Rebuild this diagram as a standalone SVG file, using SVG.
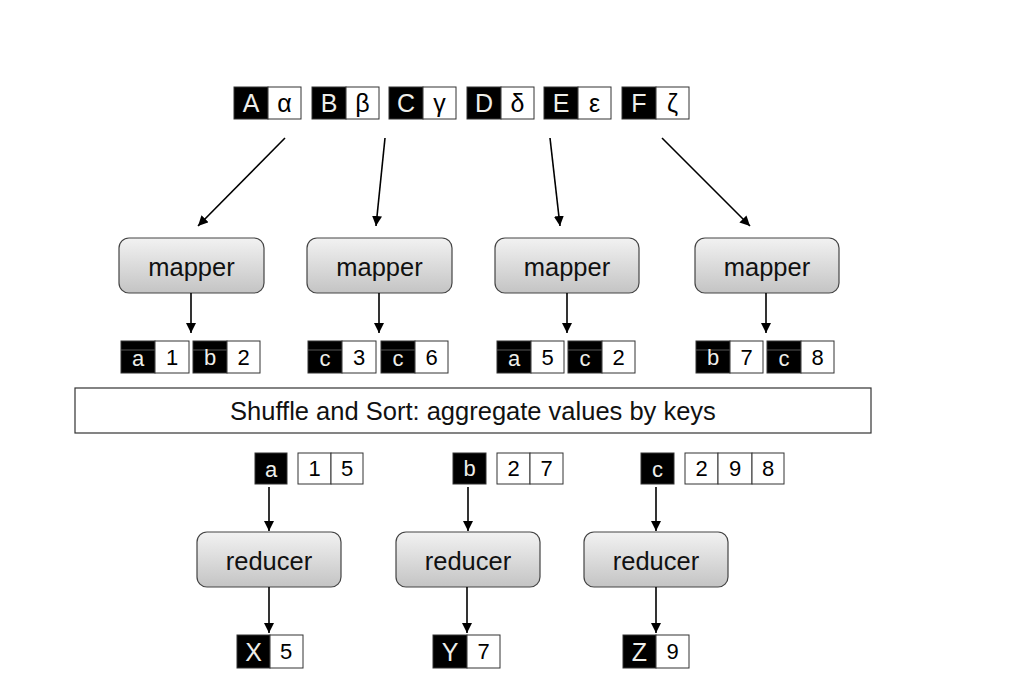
<svg xmlns="http://www.w3.org/2000/svg" width="1016" height="698" viewBox="0 0 1016 698">
<defs>
<linearGradient id="g" x1="0" y1="0" x2="0" y2="1">
<stop offset="0" stop-color="#f2f2f2"/>
<stop offset="1" stop-color="#c4c4c4"/>
</linearGradient>
<marker id="ah" viewBox="0 0 10 10" refX="10" refY="5" markerWidth="10" markerHeight="10" markerUnits="userSpaceOnUse" orient="auto">
<path d="M0,0 L10,5 L0,10 Z" fill="#000"/>
</marker>
</defs>
<style>
text{font-family:"Liberation Sans",Arial,sans-serif;text-anchor:middle;dominant-baseline:central}
.k{fill:#000;stroke:#333;stroke-width:1}
.v{fill:#fff;stroke:#333;stroke-width:1}
.kt{fill:#eeeeea;font-size:25px}
.vt{fill:#000;font-size:25px}
.pk{fill:#eeeeea;font-size:22px}
.pv{fill:#000;font-size:22px}
.box{fill:url(#g);stroke:#444;stroke-width:1.2}
.bt{fill:#111;font-size:25.5px}
.c{stroke:#000;stroke-width:1.6;fill:none;marker-end:url(#ah)}
.hl{stroke:#555;stroke-width:1}
</style>
<rect width="1016" height="698" fill="#fff"/>

<g id="inputs">
<g id="in-A"><rect class="k" x="234" y="87" width="34" height="32"/><rect class="v" x="268" y="87" width="33" height="32"/><text class="kt" x="251" y="103">A</text><text class="vt" x="284.5" y="103">α</text></g>
<g id="in-B"><rect class="k" x="312" y="87" width="34" height="32"/><rect class="v" x="346" y="87" width="33" height="32"/><text class="kt" x="329" y="103">B</text><text class="vt" x="362.5" y="103">β</text></g>
<g id="in-C"><rect class="k" x="389" y="87" width="34" height="32"/><rect class="v" x="423" y="87" width="33" height="32"/><text class="kt" x="406" y="103">C</text><text class="vt" x="439.5" y="103">γ</text></g>
<g id="in-D"><rect class="k" x="467" y="87" width="34" height="32"/><rect class="v" x="501" y="87" width="33" height="32"/><text class="kt" x="484" y="103">D</text><text class="vt" x="517.5" y="103">δ</text></g>
<g id="in-E"><rect class="k" x="544" y="87" width="34" height="32"/><rect class="v" x="578" y="87" width="33" height="32"/><text class="kt" x="561" y="103">E</text><text class="vt" x="594.5" y="103">ε</text></g>
<g id="in-F"><rect class="k" x="622" y="87" width="34" height="32"/><rect class="v" x="656" y="87" width="33" height="32"/><text class="kt" x="639" y="103">F</text><text class="vt" x="672.5" y="103">ζ</text></g>
</g>

<g id="mapper1"><rect class="box" x="119" y="238" width="145" height="55" rx="10"/><text class="bt" x="191.5" y="267">mapper</text></g>
<g id="mapper2"><rect class="box" x="307" y="238" width="145" height="55" rx="10"/><text class="bt" x="379.5" y="267">mapper</text></g>
<g id="mapper3"><rect class="box" x="495" y="238" width="144" height="55" rx="10"/><text class="bt" x="567" y="267">mapper</text></g>
<g id="mapper4"><rect class="box" x="695" y="238" width="144" height="55" rx="10"/><text class="bt" x="767" y="267">mapper</text></g>

<g id="pairs1">
<rect class="k" x="121" y="341" width="34" height="32"/><line class="hl" x1="121" y1="350" x2="155" y2="350"/><rect class="v" x="155" y="341" width="34" height="32"/><text class="pk" x="138" y="358">a</text><text class="pv" x="172" y="357">1</text>
<rect class="k" x="193" y="341" width="34" height="32"/><line class="hl" x1="193" y1="350" x2="227" y2="350"/><rect class="v" x="227" y="341" width="33" height="32"/><text class="pk" x="210" y="357">b</text><text class="pv" x="243.5" y="357">2</text>
</g>
<g id="pairs2">
<rect class="k" x="308" y="341" width="34" height="32"/><line class="hl" x1="308" y1="350" x2="342" y2="350"/><rect class="v" x="342" y="341" width="34" height="32"/><text class="pk" x="325" y="358">c</text><text class="pv" x="359" y="357">3</text>
<rect class="k" x="381" y="341" width="34" height="32"/><line class="hl" x1="381" y1="350" x2="415" y2="350"/><rect class="v" x="415" y="341" width="33" height="32"/><text class="pk" x="398" y="358">c</text><text class="pv" x="431.5" y="357">6</text>
</g>
<g id="pairs3">
<rect class="k" x="497" y="341" width="34" height="32"/><line class="hl" x1="497" y1="350" x2="531" y2="350"/><rect class="v" x="531" y="341" width="33" height="32"/><text class="pk" x="514" y="358">a</text><text class="pv" x="547.5" y="357">5</text>
<rect class="k" x="568" y="341" width="34" height="32"/><line class="hl" x1="568" y1="350" x2="602" y2="350"/><rect class="v" x="602" y="341" width="33" height="32"/><text class="pk" x="585" y="358">c</text><text class="pv" x="618.5" y="357">2</text>
</g>
<g id="pairs4">
<rect class="k" x="696" y="341" width="34" height="32"/><line class="hl" x1="696" y1="350" x2="730" y2="350"/><rect class="v" x="730" y="341" width="33" height="32"/><text class="pk" x="713" y="357">b</text><text class="pv" x="746.5" y="357">7</text>
<rect class="k" x="767" y="341" width="34" height="32"/><line class="hl" x1="767" y1="350" x2="801" y2="350"/><rect class="v" x="801" y="341" width="33" height="32"/><text class="pk" x="784" y="358">c</text><text class="pv" x="817.5" y="357">8</text>
</g>

<g id="shuffle"><rect x="75" y="388" width="796" height="45" fill="#fff" stroke="#333" stroke-width="1.2"/><text class="bt" x="473" y="411">Shuffle and Sort: aggregate values by keys</text></g>

<g id="group-a"><rect class="k" x="255" y="453" width="32" height="31"/><text class="pk" x="271" y="469">a</text>
<rect class="v" x="298" y="453" width="33" height="31"/><rect class="v" x="331" y="453" width="32" height="31"/><text class="pv" x="314.5" y="468">1</text><text class="pv" x="347" y="468">5</text></g>
<g id="group-b"><rect class="k" x="453" y="453" width="33" height="31"/><text class="pk" x="469.5" y="468">b</text>
<rect class="v" x="497" y="453" width="33" height="31"/><rect class="v" x="530" y="453" width="33" height="31"/><text class="pv" x="513.5" y="468">2</text><text class="pv" x="546.5" y="468">7</text></g>
<g id="group-c"><rect class="k" x="641" y="453" width="33" height="31"/><text class="pk" x="657.5" y="469">c</text>
<rect class="v" x="685" y="453" width="33" height="31"/><rect class="v" x="718" y="453" width="34" height="31"/><rect class="v" x="752" y="453" width="32" height="31"/><text class="pv" x="701.5" y="468">2</text><text class="pv" x="735" y="468">9</text><text class="pv" x="768" y="468">8</text></g>

<g id="reducer1"><rect class="box" x="197" y="532" width="144" height="55" rx="10"/><text class="bt" x="269" y="561">reducer</text></g>
<g id="reducer2"><rect class="box" x="396" y="532" width="144" height="55" rx="10"/><text class="bt" x="468" y="561">reducer</text></g>
<g id="reducer3"><rect class="box" x="584" y="532" width="144" height="55" rx="10"/><text class="bt" x="656" y="561">reducer</text></g>

<g id="out-X"><rect class="k" x="237" y="635" width="33" height="33"/><rect class="v" x="270" y="635" width="33" height="33"/><text class="kt" x="253.5" y="652">X</text><text class="pv" x="286" y="651">5</text></g>
<g id="out-Y"><rect class="k" x="433" y="635" width="34" height="33"/><rect class="v" x="467" y="635" width="33" height="33"/><text class="kt" x="450" y="652">Y</text><text class="pv" x="483.5" y="651">7</text></g>
<g id="out-Z"><rect class="k" x="623" y="635" width="33" height="33"/><rect class="v" x="656" y="635" width="33" height="33"/><text class="kt" x="639.5" y="652">Z</text><text class="pv" x="672.5" y="651">9</text></g>

<g id="connectors">
<line class="c" x1="285" y1="138" x2="198" y2="226"/>
<line class="c" x1="385" y1="138" x2="376" y2="226"/>
<line class="c" x1="550" y1="138" x2="560" y2="226"/>
<line class="c" x1="662" y1="138" x2="750" y2="226"/>
<line class="c" x1="191" y1="293" x2="191" y2="333"/>
<line class="c" x1="379" y1="293" x2="379" y2="333"/>
<line class="c" x1="567" y1="293" x2="567" y2="333"/>
<line class="c" x1="766" y1="293" x2="766" y2="333"/>
<line class="c" x1="269" y1="487" x2="269" y2="531"/>
<line class="c" x1="468" y1="487" x2="468" y2="531"/>
<line class="c" x1="656" y1="487" x2="656" y2="531"/>
<line class="c" x1="269" y1="587" x2="269" y2="633"/>
<line class="c" x1="467" y1="587" x2="467" y2="633"/>
<line class="c" x1="656" y1="587" x2="656" y2="633"/>
</g>
</svg>
